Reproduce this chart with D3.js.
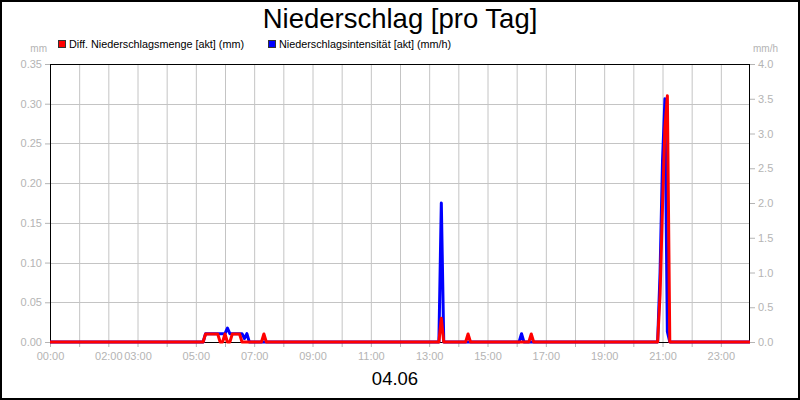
<!DOCTYPE html>
<html>
<head>
<meta charset="utf-8">
<script src="https://cdn.jsdelivr.net/npm/d3@7"></script>
<style>
  html, body { margin: 0; padding: 0; background: #fff; }
  svg { display: block; font-family: "Liberation Sans", Arial, sans-serif; }
</style>
</head>
<body>
<svg id="chart" width="800" height="400"></svg>
<script>
// ---- data ----
const titleText = "Niederschlag [pro Tag]";
const dateText = "04.06";
const seriesNames = ["Diff. Niederschlagsmenge [akt] (mm)", "Niederschlagsintensität [akt] (mm/h)"];
const leftUnit = "mm";
const rightUnit = "mm/h";
const xTickLabels = ["00:00","02:00","03:00","05:00","07:00","09:00","11:00","13:00","15:00","17:00","19:00","21:00","23:00"];
const leftTicks = [0.00,0.05,0.10,0.15,0.20,0.25,0.30,0.35];
const rightTicks = [0.0,0.5,1.0,1.5,2.0,2.5,3.0,3.5,4.0];

// non-zero readings (5-minute steps); all other steps are 0
const mengeTimes  = ["05:20","05:25","05:30","05:35","05:40","05:45","06:00","06:15","06:20","06:25","06:30","07:20","13:25","14:20","16:30","20:55","21:00","21:05","21:10"];
const mengeValues = [0.01,0.01,0.01,0.01,0.01,0.01,0.01,0.01,0.01,0.01,0.01,0.01,0.03,0.01,0.01,0.06,0.17,0.27,0.31];

const intensTimes  = ["05:20","05:25","05:30","05:35","05:40","05:45","05:50","05:55","06:00","06:05","06:10","06:15","06:20","06:25","06:30","06:35","06:40","06:45","13:25","16:10","20:55","21:00","21:05","21:10"];
const intensValues = [0.12,0.12,0.12,0.12,0.12,0.12,0.12,0.12,0.12,0.20,0.12,0.12,0.12,0.12,0.12,0.12,0.05,0.12,2.0,0.12,1.0,2.6,3.5,0.15];

// ---- helpers ----
const toMin = s => { const [h,m] = s.split(":").map(Number); return h*60+m; };
function buildSeries(times, values) {
  const map = new Map(times.map((t,i) => [toMin(t), values[i]]));
  const out = [];
  for (let m = 0; m <= 24*60; m += 5) out.push({m, v: map.has(m) ? map.get(m) : 0});
  return out;
}
const menge = buildSeries(mengeTimes, mengeValues);
const intens = buildSeries(intensTimes, intensValues);

// ---- layout ----
const svg = d3.select("#chart");
const W = 800, H = 400;
const L = 50, R = 750, T = 64, B = 342;
const gray = "#b4b4b4", grid = "#c4c4c4";

const x = d3.scaleLinear().domain([0, 24*60]).range([L, R]);
const yL = d3.scaleLinear().domain([0, 0.35]).range([B, T]);
const yR = d3.scaleLinear().domain([0, 4.0]).range([B, T]);

svg.append("rect").attr("x",0).attr("y",0).attr("width",W).attr("height",H).attr("fill","#fff");

// grid
const hours = d3.range(1, 24);
svg.append("g").selectAll("line").data(hours).join("line")
  .attr("x1", d => x(d*60)+0.5).attr("x2", d => x(d*60)+0.5)
  .attr("y1", T).attr("y2", B).attr("stroke", grid).attr("stroke-width", 1);
svg.append("g").selectAll("line").data(leftTicks.slice(1, -1)).join("line")
  .attr("x1", L).attr("x2", R)
  .attr("y1", d => Math.round(yL(d))+0.5).attr("y2", d => Math.round(yL(d))+0.5)
  .attr("stroke", grid).attr("stroke-width", 1);

// axes
const xAxis = d3.axisBottom(x)
  .tickValues(d3.range(0, 24).map(h => h*60))
  .tickSize(5)
  .tickFormat(d => { const lab = String(d/60).padStart(2,"0") + ":00"; return xTickLabels.includes(lab) ? lab : ""; });
const gx = svg.append("g").attr("transform", `translate(0,${B})`).call(xAxis);
gx.select(".domain").remove();
gx.selectAll(".tick line").attr("stroke", gray);
gx.selectAll(".tick text").attr("fill", gray).attr("font-size", 11).attr("dy", "0.9em")
  .attr("font-family", "Liberation Sans, Arial, sans-serif");

const gl = svg.append("g").attr("transform", `translate(${L},0)`)
  .call(d3.axisLeft(yL).tickValues(leftTicks).tickFormat(d3.format(".2f")).tickSize(5));
gl.select(".domain").remove();
gl.selectAll(".tick line").attr("stroke", gray);
gl.selectAll(".tick text").attr("fill", gray).attr("font-size", 11)
  .attr("font-family", "Liberation Sans, Arial, sans-serif");

const gr = svg.append("g").attr("transform", `translate(${R},0)`)
  .call(d3.axisRight(yR).tickValues(rightTicks).tickFormat(d3.format(".1f")).tickSize(5));
gr.select(".domain").remove();
gr.selectAll(".tick line").attr("stroke", gray);
gr.selectAll(".tick text").attr("fill", gray).attr("font-size", 11)
  .attr("font-family", "Liberation Sans, Arial, sans-serif");

// plot frame
svg.append("rect").attr("x", L+0.5).attr("y", T+0.5).attr("width", R-L-1).attr("height", B-T)
  .attr("fill", "none").attr("stroke", "#000").attr("stroke-width", 1);

// units
svg.append("text").attr("x", 47).attr("y", 52).attr("text-anchor","end")
  .attr("font-size", 10).attr("fill", gray).text(leftUnit);
svg.append("text").attr("x", 753).attr("y", 52).attr("text-anchor","start")
  .attr("font-size", 10).attr("fill", gray).text(rightUnit);

// lines
const lineB = d3.line().x(d => x(d.m)).y(d => yR(d.v));
const lineR = d3.line().x(d => x(d.m)).y(d => yL(d.v));
svg.append("path").datum(intens).attr("d", lineB).attr("fill","none")
  .attr("stroke","#0000ff").attr("stroke-width", 3).attr("stroke-linejoin","round");
svg.append("path").datum(menge).attr("d", lineR).attr("fill","none")
  .attr("stroke","#ff0000").attr("stroke-width", 3).attr("stroke-linejoin","round");

// legend
const legend = [{c:"#ff0000", x:58, t:seriesNames[0]}, {c:"#0000ff", x:268, t:seriesNames[1]}];
const lg = svg.append("g").selectAll("g").data(legend).join("g");
lg.append("rect").attr("x", d => d.x+0.5).attr("y", 40.5).attr("width", 7).attr("height", 7)
  .attr("fill", d => d.c).attr("stroke", "#333").attr("stroke-width", 1);
lg.append("text").attr("x", d => d.x + 11).attr("y", 48).attr("font-size", 10.8).attr("fill", "#000")
  .text(d => d.t);

// title & date
svg.append("text").attr("x", 400).attr("y", 28).attr("text-anchor","middle")
  .attr("font-size", 27.5).attr("fill","#000").text(titleText);
svg.append("text").attr("x", 395).attr("y", 385).attr("text-anchor","middle")
  .attr("font-size", 18.5).attr("fill","#000").text(dateText);

// outer frame
svg.append("rect").attr("x", 1).attr("y", 1).attr("width", W-2).attr("height", H-2)
  .attr("fill","none").attr("stroke","#000").attr("stroke-width", 2);
</script>
</body>
</html>
